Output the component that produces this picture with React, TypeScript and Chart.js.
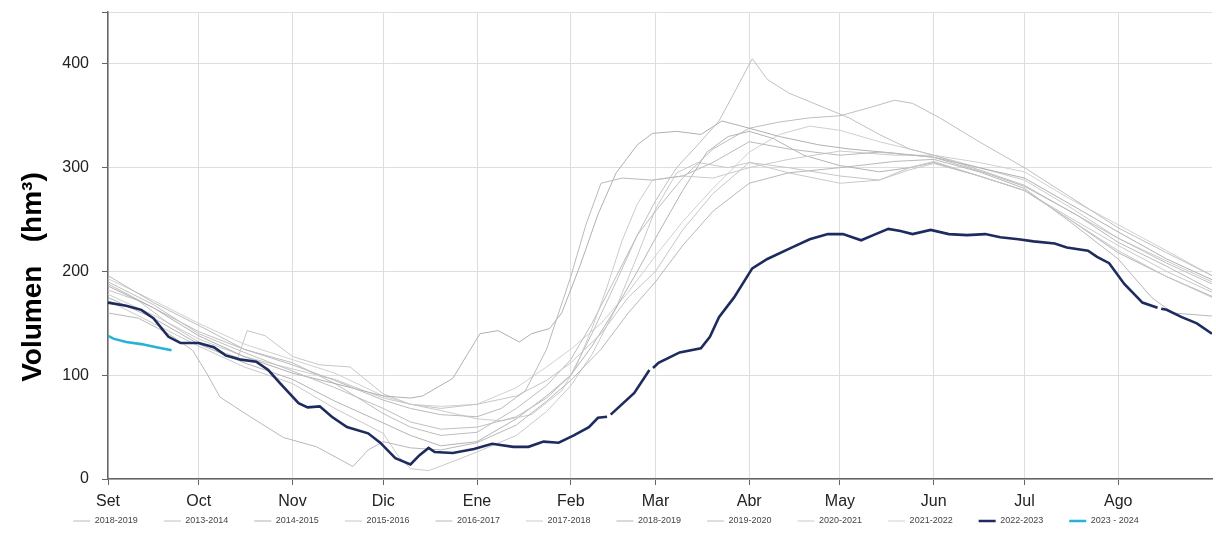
import React, { useEffect, useRef } from 'react';
import { Chart, registerables } from 'chart.js';

Chart.register(...registerables);

// ---- axis data ----
const monthDays = [0, 30, 61, 91, 122, 153, 181, 212, 242, 273, 303, 334];
const monthLabels = ['Set', 'Oct', 'Nov', 'Dic', 'Ene', 'Feb', 'Mar', 'Abr', 'May', 'Jun', 'Jul', 'Ago'];
const yTickValues = [0, 100, 200, 300, 400, 450];
const yTitle = 'Volumen   (hm³)';

// ---- series labels ----
const seriesLabels = [
  '2018-2019', '2013-2014', '2014-2015', '2015-2016', '2016-2017', '2017-2018',
  '2018-2019', '2019-2020', '2020-2021', '2021-2022', '2022-2023', '2023 - 2024',
];

// ---- series values: [day since 1 Sep, volume hm3] ----
const g1: [number, number | null][] = [[0,196],[15,170],[30,148],[45,125],[61,110],[75,95],[91,76],[100,68],[110,62],[122,60],[130,68],[138,85],[145,125],[153,195],[158,245],[163,285],[170,290],[180,288],[190,292],[200,305],[212,325],[225,318],[242,312],[255,315],[273,310],[290,295],[303,282],[320,255],[334,228],[350,205],[365,182]];
const g2: [number, number | null][] = [[0,190],[15,168],[30,140],[45,122],[61,104],[75,88],[91,68],[100,55],[110,48],[122,50],[135,60],[145,78],[153,100],[160,140],[168,190],[175,235],[181,268],[188,300],[195,322],[202,345],[207,372],[213,405],[218,385],[225,372],[235,360],[245,348],[255,332],[265,318],[273,312],[288,298],[303,283],[318,258],[334,232],[350,208],[365,188]];
const g3: [number, number | null][] = [[0,186],[15,165],[30,138],[45,118],[61,102],[75,92],[91,80],[100,78],[104,80],[114,97],[119,121],[123,140],[129,143],[136,132],[140,140],[146,145],[150,160],[156,205],[162,255],[168,295],[175,322],[180,333],[188,335],[196,332],[203,345],[212,338],[222,330],[235,322],[245,318],[260,314],[273,310],[288,300],[303,290],[318,265],[334,238],[350,212],[365,192]];
const g4: [number, number | null][] = [[0,182],[10,172],[20,150],[30,132],[38,122],[43,117],[46,143],[52,138],[61,118],[70,110],[80,108],[91,82],[100,72],[110,68],[122,72],[135,80],[145,95],[153,112],[163,140],[172,175],[181,200],[190,240],[200,275],[212,305],[225,300],[242,292],[255,288],[265,300],[273,306],[288,292],[303,278],[318,250],[334,220],[350,195],[365,175]];
const g5: [number, number | null][] = [[0,160],[10,155],[20,140],[28,124],[33,100],[37,79],[47,60],[58,40],[69,31],[81,12],[86,28],[91,36],[100,30],[110,28],[122,35],[135,52],[145,75],[153,95],[163,125],[172,160],[181,190],[190,225],[200,258],[212,285],[225,295],[242,300],[260,306],[273,308],[288,296],[303,280],[318,248],[334,212],[345,175],[352,160],[365,157]];
const g6: [number, number | null][] = [[0,178],[15,158],[30,135],[45,118],[61,106],[75,96],[91,78],[100,72],[110,66],[122,58],[130,56],[140,62],[150,85],[155,110],[160,145],[165,185],[170,230],[175,265],[180,288],[190,292],[200,290],[212,300],[225,308],[242,316],[260,312],[273,312],[288,300],[303,288],[318,262],[334,232],[350,210],[365,190]];
const g7: [number, number | null][] = [[0,175],[15,155],[30,130],[45,112],[61,96],[75,75],[91,54],[100,42],[110,32],[122,36],[135,58],[145,80],[153,100],[160,128],[168,165],[175,200],[181,232],[190,278],[198,315],[205,330],[212,335],[220,328],[230,312],[242,302],[255,296],[265,300],[273,305],[288,292],[303,278],[318,250],[334,218],[350,195],[365,176]];
const g8: [number, number | null][] = [[0,188],[15,165],[30,142],[45,125],[61,112],[75,92],[91,63],[100,50],[110,42],[122,45],[135,68],[145,90],[153,115],[160,150],[168,195],[175,235],[181,258],[190,290],[200,318],[212,338],[222,344],[232,348],[242,350],[252,358],[260,365],[266,362],[275,348],[288,325],[303,300],[318,272],[334,242],[350,218],[365,196]];
const g9: [number, number | null][] = [[0,172],[15,150],[30,128],[45,108],[61,92],[75,68],[91,44],[96,22],[100,10],[106,8],[115,18],[122,26],[135,42],[145,65],[153,90],[160,120],[168,165],[175,215],[181,260],[188,295],[195,305],[205,300],[212,305],[225,295],[242,285],[255,288],[265,298],[273,304],[288,292],[303,278],[318,252],[334,225],[350,200],[365,180]];
const g10: [number, number | null][] = [[0,193],[15,172],[30,150],[45,130],[61,115],[75,102],[91,80],[100,72],[110,70],[122,72],[135,88],[145,108],[153,125],[163,150],[172,180],[181,215],[190,248],[200,280],[212,315],[222,332],[232,340],[242,336],[255,325],[265,318],[273,312],[288,305],[303,296],[318,270],[334,245],[350,220],[365,196]];
const s2022: [number, number | null][] = [[0,170],[6,167],[11,163],[15,155],[20,137],[24,131],[30,131],[35,127],[39,119],[44,115],[49,113],[53,105],[57,92],[63,73],[66,69],[70,70],[74,60],[79,50],[86,44],[90,35],[95,20],[100,14],[103,23],[106,30],[108,26],[114,25],[121,29],[127,34],[134,31],[139,31],[144,36],[149,35],[154,42],[159,50],[162,59],[165,60],[165.6,null],[166.2,62],[174,83],[179,105],[179.6,null],[180.2,107],[182,112],[189,122],[196,126],[199,137],[202,156],[207,175],[213,203],[218,212],[226,223],[232,231],[238,236],[243,236],[249,230],[253,235],[258,241],[262,239],[266,236],[272,240],[278,236],[284,235],[290,236],[295,233],[301,231],[306,229],[313,227],[317,223],[324,220],[327,214],[331,208],[336,188],[342,170],[347,165],[347.6,null],[348.2,164],[350,163],[355,156],[360,150],[365,140]];
const s2023: [number, number | null][] = [[0,138],[2,135],[6,132],[11,130],[16,127],[21,124]];

const seriesValues = [g1, g2, g3, g4, g5, g6, g7, g8, g9, g10, s2022, s2023];

// ---- styles ----
const seriesColors = ['#bababa', '#c0c0c0', '#b0b0b0', '#c6c6c6', '#b8b8b8', '#cbcbcb', '#b4b4b4', '#bebebe', '#c9c9c9', '#d0d0d0', '#1e2b5e', '#27b3d6'];
const seriesWidths = [1, 1, 1, 1, 1, 1, 1, 1, 1, 1, 2.6, 2.6];
const seriesOrder = [2, 2, 2, 2, 2, 2, 2, 2, 2, 2, 1, 0];

const FONT = '"Liberation Sans", Arial, Helvetica, sans-serif';
const LEGEND_PAD = 26;
const LEGEND_TEXT_Y = 521;

const yTitlePlugin = {
  id: 'yTitleText',
  afterDraw(chart: any) {
    const ctx = chart.ctx;
    ctx.save();
    ctx.translate(33, 277);
    ctx.rotate(-Math.PI / 2);
    ctx.font = 'bold 28px ' + FONT;
    ctx.fillStyle = '#000';
    ctx.textAlign = 'center';
    ctx.textBaseline = 'middle';
    ctx.fillText(yTitle, 0, 0);
    ctx.restore();
  },
};

const legendShiftPlugin = {
  id: 'legendShift',
  afterLayout(chart: any) {
    const lg = chart.legend;
    if (!lg) return;
    lg.top = LEGEND_TEXT_Y - 4.5 - LEGEND_PAD;
    lg.bottom = chart.height;
    lg.height = lg.bottom - lg.top;
  },
};

export default function App() {
  const ref = useRef<HTMLCanvasElement | null>(null);

  useEffect(() => {
    document.body.style.margin = '0';
    if (!ref.current) return;
    Chart.defaults.font.family = FONT;

    const datasets = seriesValues.map((vals, i) => ({
      label: seriesLabels[i],
      data: vals.map(([d, v]) => ({ x: d, y: v })),
      borderColor: seriesColors[i],
      backgroundColor: seriesColors[i],
      borderWidth: seriesWidths[i],
      pointRadius: 0,
      tension: 0,
      spanGaps: false,
      fill: false,
      order: seriesOrder[i],
    }));

    const chart = new Chart(ref.current, {
      type: 'line',
      data: { datasets },
      plugins: [yTitlePlugin, legendShiftPlugin],
      options: {
        animation: false,
        responsive: false,
        devicePixelRatio: 1,
        events: [],
        layout: { padding: { top: 12, right: 4, left: 0, bottom: 21 } },
        plugins: {
          tooltip: { enabled: false },
          legend: {
            position: 'bottom',
            maxHeight: 10,
            labels: {
              usePointStyle: true,
              pointStyle: 'line',
              pointStyleWidth: 17,
              padding: LEGEND_PAD,
              color: '#444',
              font: { size: 9 },
              sort: (a: any, b: any) => a.datasetIndex - b.datasetIndex,
            },
          },
        },
        scales: {
          x: {
            type: 'linear',
            min: 0,
            max: 365,
            afterBuildTicks: (s: any) => {
              s.ticks = monthDays.map((v) => ({ value: v }));
            },
            afterFit: (s: any) => {
              s.height = 30;
              s.paddingLeft = 0;
              s.paddingRight = 0;
            },
            ticks: {
              autoSkip: false,
              maxRotation: 0,
              padding: 7,
              color: '#222',
              font: { size: 16 },
              callback: (v: any) => {
                const i = monthDays.indexOf(Number(v));
                return i >= 0 ? monthLabels[i] : '';
              },
            },
            grid: { color: '#dedede', tickColor: '#666', tickLength: 6, lineWidth: 1 },
            border: { color: '#666', width: 1.5 },
          },
          y: {
            min: 0,
            max: 450,
            afterBuildTicks: (s: any) => {
              s.ticks = yTickValues.map((v) => ({ value: v }));
            },
            afterFit: (s: any) => {
              s.width = 108;
              s.paddingTop = 0;
              s.paddingBottom = 0;
            },
            ticks: {
              padding: 13,
              color: '#222',
              font: { size: 16 },
              callback: (v: any) => (Number(v) === 450 ? '' : String(v)),
            },
            grid: { color: '#dedede', tickColor: '#666', tickLength: 6, lineWidth: 1 },
            border: { color: '#666', width: 1.5 },
          },
        },
      },
    } as any);

    return () => chart.destroy();
  }, []);

  return (
    <div style={{ width: 1216, height: 540, background: '#fff' }}>
      <canvas ref={ref} width={1216} height={540} style={{ display: 'block' }} />
    </div>
  );
}
